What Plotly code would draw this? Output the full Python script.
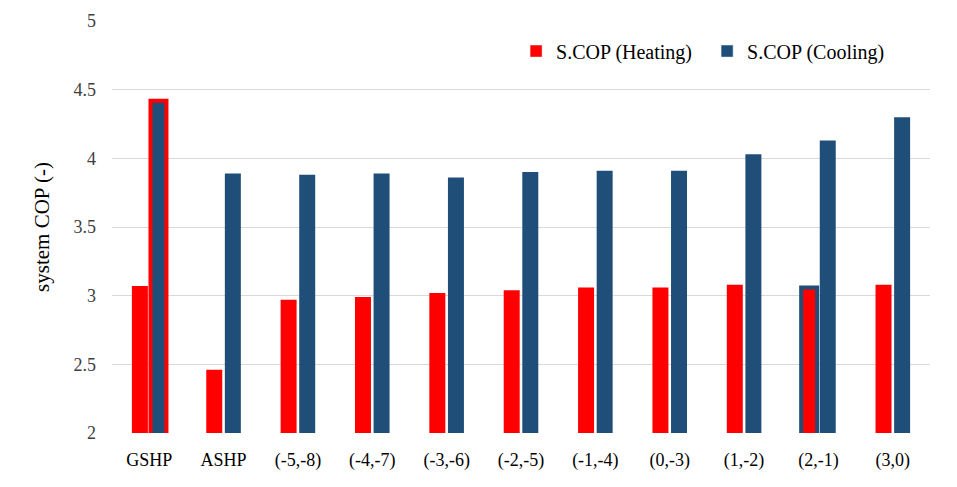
import plotly.graph_objects as go

categories = ["GSHP", "ASHP", "(-5,-8)", "(-4,-7)", "(-3,-6)", "(-2,-5)",
              "(-1,-4)", "(0,-3)", "(1,-2)", "(2,-1)", "(3,0)"]
heating = [3.07, 2.46, 2.97, 2.99, 3.02, 3.04, 3.06, 3.06, 3.08, 3.06, 3.08]
cooling = [4.42, 3.89, 3.88, 3.89, 3.86, 3.90, 3.91, 3.91, 4.03, 4.13, 4.30]

RED = "#FF0000"
BLUE = "#1F4E79"
FONT = "Liberation Serif, Times New Roman, DejaVu Serif, serif"

heat_line_col = ["rgba(0,0,0,0)"] * len(categories)
heat_line_w = [0] * len(categories)
heat_line_col[9] = BLUE
heat_line_w[9] = 4
cool_line_col = ["rgba(0,0,0,0)"] * len(categories)
cool_line_w = [0] * len(categories)
cool_line_col[0] = RED
cool_line_w[0] = 4

fig = go.Figure()
fig.add_trace(go.Bar(x=categories, y=heating, name="S.COP (Heating)", offsetgroup="h",
                     marker=dict(color=RED, line=dict(color=heat_line_col, width=heat_line_w)),
                     showlegend=False))
fig.add_trace(go.Bar(x=categories, y=cooling, name="S.COP (Cooling)", offsetgroup="c",
                     marker=dict(color=BLUE, line=dict(color=cool_line_col, width=cool_line_w)),
                     showlegend=False))
# legend-only entries (share offset groups so they don't change bar layout)
fig.add_trace(go.Bar(x=[None], y=[None], name="S.COP (Heating)", offsetgroup="h",
                     marker=dict(color=RED), showlegend=True))
fig.add_trace(go.Bar(x=[None], y=[None], name="S.COP (Cooling)", offsetgroup="c",
                     marker=dict(color=BLUE), showlegend=True))

fig.update_layout(
    width=957, height=487,
    margin=dict(l=104, r=35, t=13, b=62),
    paper_bgcolor="white", plot_bgcolor="white",
    barmode="group", bargap=0.5, bargroupgap=0.14,
    font=dict(family=FONT, size=18, color="#404040"),
    legend=dict(orientation="h", x=0.494, y=0.927, xanchor="left", yanchor="middle",
                font=dict(family=FONT, size=20, color="#000000"),
                bgcolor="rgba(0,0,0,0)", itemwidth=30, traceorder="normal",
                entrywidth=146),
    xaxis=dict(showgrid=False, showline=False, ticks="", zeroline=False, automargin=False,
               ticklabelstandoff=14,
               tickfont=dict(family=FONT, size=18, color="#000000")),
    yaxis=dict(range=[2, 5], dtick=0.5, showgrid=True, gridcolor="#D9D9D9", gridwidth=1,
               zeroline=False, showline=False, ticks="", automargin=False,
               ticklabelstandoff=15,
               tickfont=dict(family=FONT, size=18, color="#404040"),
               title=dict(text="system COP (-)", font=dict(family=FONT, size=21, color="#000000"),
                          standoff=18)),
)

fig.write_html("out.html")
